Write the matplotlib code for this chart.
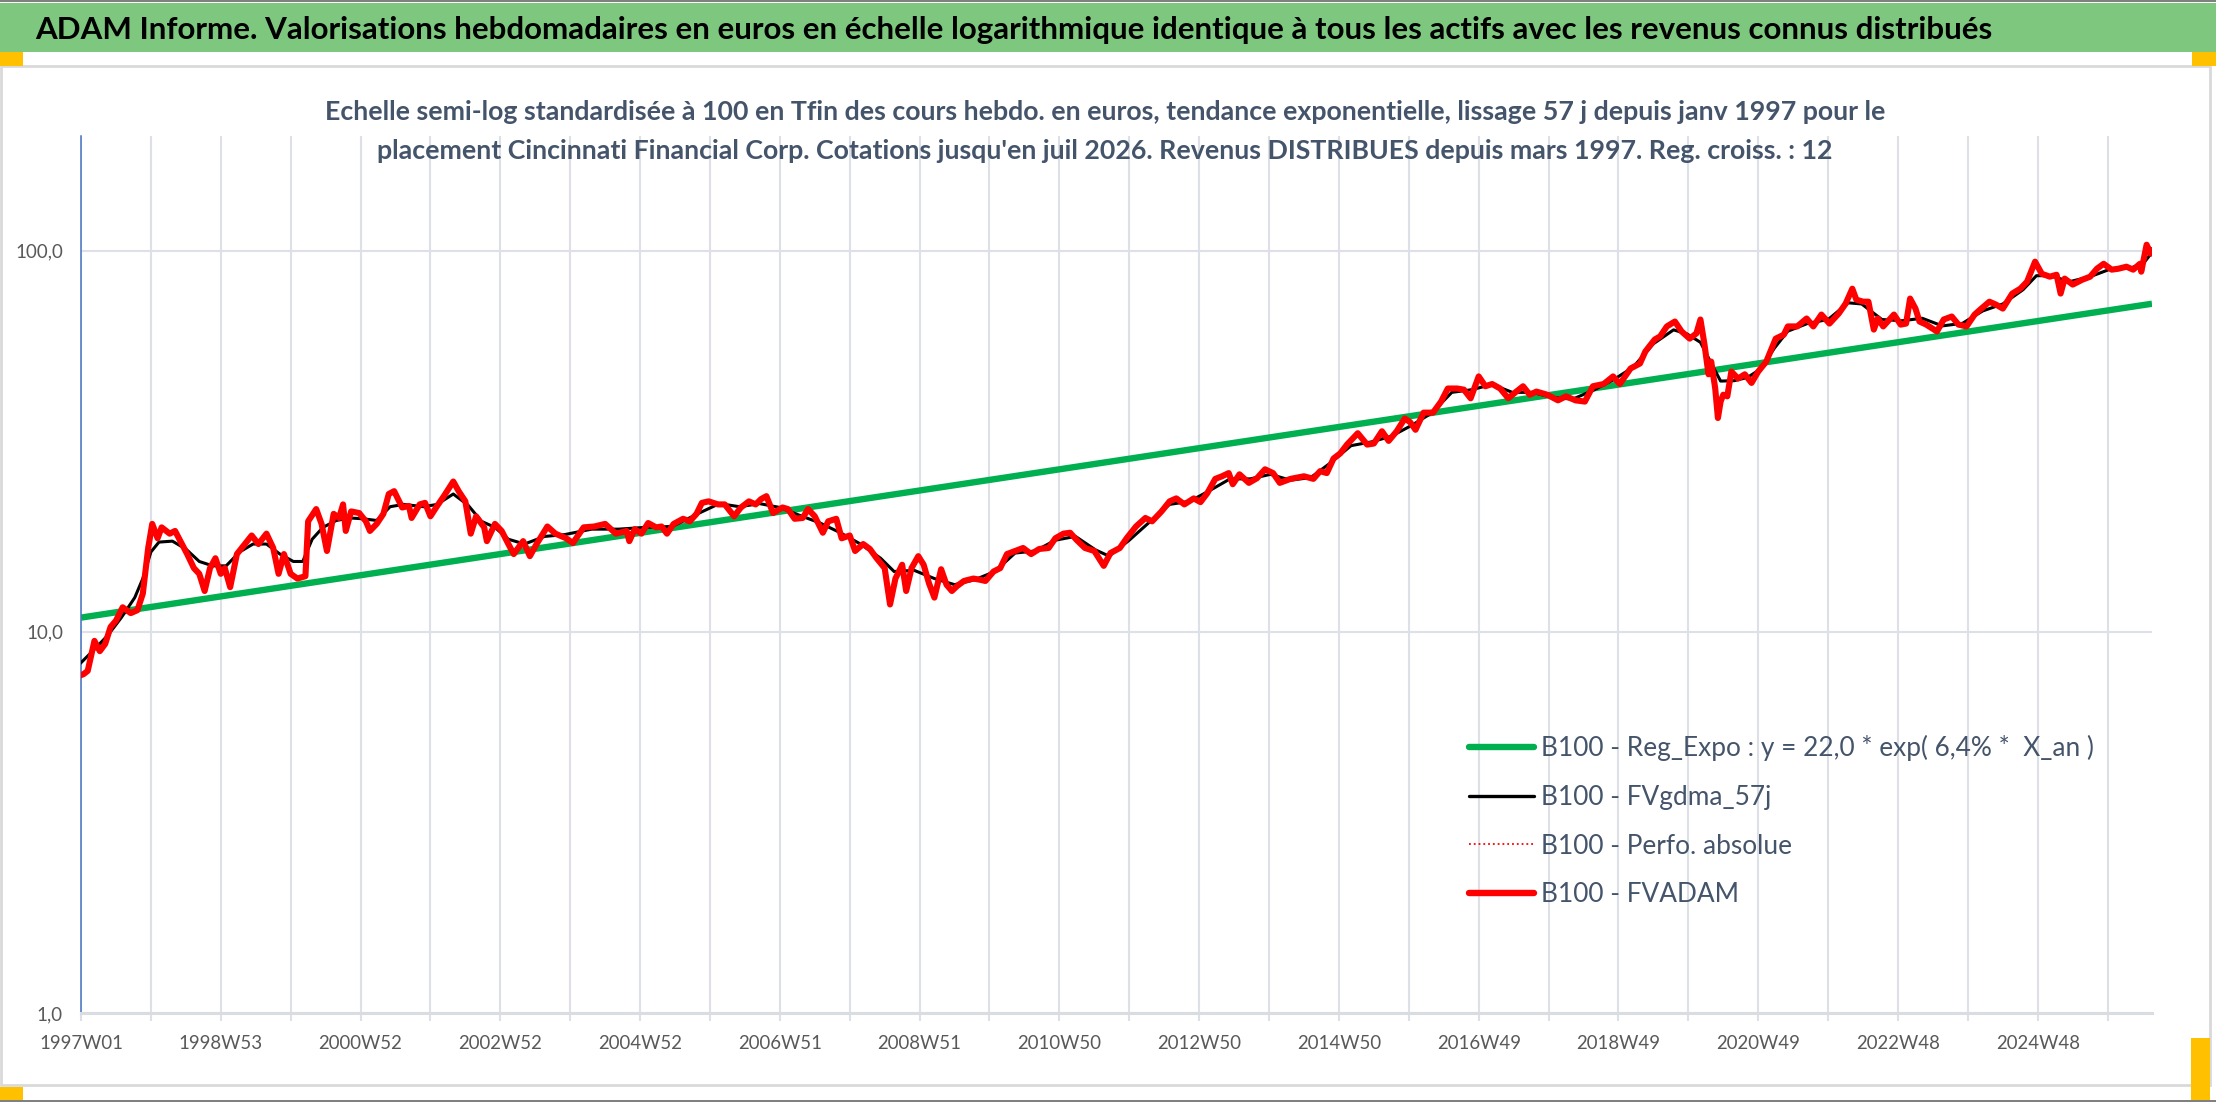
import matplotlib
matplotlib.use('Agg')
import matplotlib.pyplot as plt
from matplotlib.patches import Rectangle
from matplotlib.lines import Line2D
from matplotlib.ticker import FixedLocator, NullLocator, FuncFormatter

# ---------------- DATA ----------------
title = ("ADAM Informe. Valorisations hebdomadaires en euros en échelle logarithmique "
         "identique à tous les actifs avec les revenus connus distribués")
subtitle1 = ("Echelle semi-log standardisée à 100 en Tfin des cours hebdo. en euros, tendance "
             "exponentielle, lissage 57 j depuis janv 1997 pour le")
subtitle2 = ("placement Cincinnati Financial Corp. Cotations jusqu'en juil 2026. Revenus "
             "DISTRIBUES depuis mars 1997. Reg. croiss. : 12")

n_weeks = 1542
tick_labels = ["1997W01", "1998W53", "2000W52", "2002W52", "2004W52", "2006W51",
               "2008W51", "2010W50", "2012W50", "2014W50", "2016W49", "2018W49",
               "2020W49", "2022W48", "2024W48"]

legend_labels = ["B100 - Reg_Expo : y = 22,0 * exp( 6,4% *  X_an )",
                 "B100 - FVgdma_57j",
                 "B100 - Perfo. absolue",
                 "B100 - FVADAM"]

# Exponential trend (straight line in semi-log): start and end values
trend_weeks = [0, 1541]
trend_vals = [10.9, 72.6]

# FVADAM (red) : week index, value
red_weeks = [0, 2, 5, 10, 14, 18, 22, 26, 31, 37, 42, 46, 50, 53, 57, 60, 66, 70, 74, 79,
             84, 88, 92, 96, 100, 104, 107, 111, 116, 122, 127, 132, 138, 143, 147, 151, 156,
             161, 167, 169, 175, 179, 183, 188, 192, 195, 197, 201, 207, 212, 215, 220, 225,
             229, 233, 239, 244, 246, 252, 256, 260, 265, 270, 277, 281, 286, 290, 294, 300,
             302, 308, 313, 318, 322, 329, 334, 339, 347, 353, 361, 366, 374, 382, 390, 398,
             406, 408, 412, 417, 422, 428, 432, 436, 441, 448, 453, 458, 462, 467, 474, 479,
             486, 491, 497, 502, 506, 510, 515, 522, 526, 531, 537, 541, 546, 552, 556, 562,
             566, 572, 576, 582, 587, 592, 598, 602, 606, 611, 614, 618, 623, 627, 631, 635,
             640, 644, 648, 652, 657, 664, 669, 673, 679, 684, 689, 695, 701, 707, 713, 720,
             725, 731, 736, 741, 747, 754, 761, 766, 773, 778, 785, 792, 797, 804, 810, 815,
             821, 828, 833, 838, 844, 849, 854, 857, 862, 869, 875, 881, 887, 892, 900, 910,
             917, 922, 927, 932, 937, 942, 950, 957, 962, 968, 973, 979, 985, 989, 993, 999,
             1006, 1012, 1017, 1024, 1029, 1034, 1040, 1045, 1050, 1056, 1062, 1068, 1073,
             1078, 1083, 1091, 1099, 1105, 1112, 1119, 1125, 1133, 1140, 1145, 1153, 1160,
             1164, 1171, 1175, 1180, 1186, 1191, 1197, 1202, 1205, 1208, 1211, 1213, 1216,
             1218, 1220, 1222, 1225, 1228, 1233, 1238, 1243, 1248, 1254, 1261, 1267, 1270,
             1277, 1284, 1289, 1295, 1301, 1308, 1313, 1318, 1321, 1326, 1330, 1334, 1337,
             1341, 1349, 1354, 1358, 1361, 1365, 1368, 1373, 1381, 1386, 1392, 1397, 1403,
             1409, 1414, 1420, 1425, 1430, 1437, 1443, 1448, 1454, 1459, 1465, 1470, 1473,
             1476, 1482, 1489, 1495, 1500, 1505, 1511, 1516, 1522, 1527, 1532, 1533, 1537,
             1540, 1541]
red_vals = [7.7, 7.75, 7.9, 9.47, 8.9, 9.3, 10.3, 10.7, 11.6, 11.2, 11.4, 12.6, 16.6, 19.2,
            17.6, 18.8, 18.1, 18.4, 17.3, 16.0, 14.7, 14.2, 12.8, 14.7, 15.6, 14.2, 14.7, 13.1,
            16.0, 17.0, 17.9, 17.0, 18.1, 16.6, 14.2, 16.0, 14.2, 13.8, 14.0, 19.5, 21.0, 19.2,
            16.3, 20.4, 19.9, 21.6, 18.4, 20.7, 20.5, 19.5, 18.4, 19.2, 20.4, 23.0, 23.4, 21.2,
            21.4, 19.9, 21.6, 21.8, 20.1, 21.4, 22.7, 24.8, 23.4, 22.0, 18.1, 20.1, 18.8, 17.3,
            19.2, 18.4, 17.0, 16.0, 17.3, 15.8, 17.0, 18.9, 18.1, 17.6, 17.1, 18.8, 18.9, 19.2,
            18.1, 18.4, 17.3, 18.6, 18.1, 19.3, 18.8, 18.9, 18.1, 19.2, 19.8, 19.5, 20.4, 21.8,
            22.0, 21.6, 21.6, 20.1, 21.2, 22.0, 21.6, 22.3, 22.7, 20.5, 21.2, 21.0, 19.8, 19.9,
            21.0, 20.1, 18.2, 19.5, 19.8, 17.6, 17.9, 16.3, 17.0, 16.5, 15.6, 14.7, 11.8, 13.8,
            15.0, 12.8, 14.7, 15.8, 15.0, 13.4, 12.3, 14.6, 13.3, 12.8, 13.2, 13.6, 13.8, 13.7,
            13.6, 14.4, 14.7, 16.0, 16.3, 16.6, 16.0, 16.5, 16.6, 17.6, 18.1, 18.2, 17.4, 16.6,
            16.3, 14.9, 16.1, 16.6, 17.6, 18.9, 19.9, 19.5, 20.7, 22.0, 22.4, 21.6, 22.4, 21.9,
            23.1, 25.2, 25.6, 26.1, 24.4, 25.9, 24.6, 25.3, 26.7, 26.1, 24.6, 25.2, 25.6, 25.2,
            26.4, 26.1, 28.5, 29.4, 31.0, 33.2, 31.0, 31.2, 33.6, 31.7, 33.6, 36.3, 35.5, 33.9,
            37.6, 37.6, 40.2, 43.5, 43.5, 43.2, 41.0, 46.8, 44.1, 44.7, 43.5, 41.0, 42.7, 44.1,
            41.9, 42.7, 41.9, 40.5, 41.5, 40.5, 40.2, 44.1, 44.7, 46.8, 44.7, 49.1, 50.6, 54.4,
            58.5, 59.6, 63.3, 65.2, 61.4, 58.8, 60.7, 66.0, 56.8, 47.4, 51.2, 43.5, 36.4, 40.2,
            41.9, 41.5, 48.2, 46.2, 47.4, 45.0, 48.2, 51.2, 58.8, 60.2, 63.3, 63.3, 66.4, 63.3,
            68.0, 64.4, 68.5, 72.6, 79.5, 74.4, 73.5, 73.5, 62.1, 66.4, 63.3, 68.0, 64.0, 64.4,
            74.9, 70.5, 65.2, 64.0, 61.4, 66.0, 67.2, 64.0, 63.3, 68.0, 70.5, 73.5, 72.2, 70.5,
            77.2, 79.5, 82.9, 93.6, 87.0, 85.5, 86.5, 77.2, 84.5, 81.5, 83.9, 85.5, 89.7, 92.4,
            89.2, 89.7, 90.8, 89.2, 92.4, 88.1, 103.7, 98.2, 100.0]

# FVgdma_57j (black, smoothed) : week index, value
black_weeks = [0, 10, 20, 30, 40, 46, 52, 58, 68, 78, 88, 98, 108, 118, 128, 138, 148, 158,
               165, 172, 180, 190, 200, 210, 220, 230, 240, 255, 265, 277, 288, 298, 308, 318,
               330, 345, 360, 380, 400, 420, 440, 460, 475, 490, 505, 520, 535, 550, 565, 580,
               595, 605, 620, 635, 650, 665, 680, 695, 710, 725, 740, 755, 765, 780, 795, 810,
               825, 840, 855, 870, 885, 900, 915, 930, 945, 960, 975, 990, 1005, 1020, 1035,
               1050, 1065, 1080, 1095, 1110, 1125, 1140, 1155, 1170, 1185, 1195, 1205, 1212,
               1220, 1230, 1240, 1250, 1260, 1270, 1285, 1300, 1315, 1325, 1340, 1355, 1370,
               1385, 1400, 1415, 1430, 1445, 1455, 1465, 1480, 1495, 1510, 1525, 1535, 1541]
black_vals = [8.3, 9.0, 9.8, 10.9, 12.3, 13.8, 16.2, 17.2, 17.3, 16.5, 15.3, 14.9, 14.9,
              16.2, 17.0, 17.0, 16.0, 15.3, 15.3, 17.5, 18.8, 19.6, 19.9, 19.8, 19.6, 21.3,
              21.6, 21.3, 21.6, 23.0, 21.5, 19.5, 18.8, 17.5, 17.0, 17.8, 18.0, 18.6, 18.6,
              18.8, 18.9, 20.5, 21.7, 21.3, 21.7, 21.2, 20.2, 19.3, 18.2, 17.0, 15.6, 14.4,
              14.5, 13.8, 13.3, 13.7, 14.4, 16.1, 16.3, 17.4, 17.8, 16.4, 15.8, 17.4, 19.4,
              21.6, 22.0, 23.5, 25.2, 25.2, 25.9, 25.0, 25.4, 27.8, 30.8, 31.5, 32.6, 34.8,
              37.5, 42.5, 43.2, 44.6, 42.5, 42.5, 41.2, 40.8, 43.0, 45.8, 49.5, 57.0, 62.0,
              60.5, 57.5, 51.5, 45.5, 45.6, 46.5, 49.0, 55.5, 61.5, 64.5, 66.0, 73.0, 72.5,
              66.0, 65.5, 66.5, 63.5, 64.5, 69.5, 72.5, 79.0, 86.0, 86.0, 83.0, 85.5, 89.5,
              90.0, 93.0, 99.0]

# ---------------- LAYOUT ----------------
W, H = 2216, 1102
FAM = ['Lato', 'Roboto', 'DejaVu Sans']
plt.rcParams['font.family'] = FAM

def fx(x):
    return x / W

def fy(y):
    return 1 - y / H

fig = plt.figure(figsize=(W / 100, H / 100), dpi=100)
fig.patch.set_facecolor('white')
renderer = fig.canvas.get_renderer()

def fit_size(s, target_px, weight='normal', base=20.0):
    t = fig.text(0, 0, s, fontsize=base, fontweight=weight)
    w = t.get_window_extent(renderer=renderer).width
    t.remove()
    return base * target_px / w

SLATE = '#44546A'
GRID = '#DDE0E6'

# decorations: title bar, borders, selection handles
fig.add_artist(Rectangle((0, fy(52)), 1, 49 / H, transform=fig.transFigure,
                         facecolor='#7DC87E', edgecolor='none', zorder=0))
fig.add_artist(Rectangle((0, fy(2)), 1, 2 / H, transform=fig.transFigure,
                         facecolor='#808080', edgecolor='none', zorder=1))
fig.add_artist(Rectangle((0, fy(H)), 1, 2 / H, transform=fig.transFigure,
                         facecolor='#808080', edgecolor='none', zorder=1))
fig.add_artist(Rectangle((fx(1), fy(1085)), 2209 / W, (1085 - 66) / H, transform=fig.transFigure,
                         fill=False, edgecolor='#D9D9D9', lw=2, zorder=1))
for (x0, y0, x1, y1) in [(0, 52, 23, 66), (2192, 52, 2216, 66), (0, 1087, 23, 1100),
                         (2191, 1038, 2210, 1100)]:
    fig.add_artist(Rectangle((fx(x0), fy(y1)), (x1 - x0) / W, (y1 - y0) / H,
                             transform=fig.transFigure, facecolor='#FFC000',
                             edgecolor='none', zorder=2))

# title
ts = fit_size(title, 1955, weight='bold')
fig.text(fx(35), fy(30), title, ha='left', va='center', fontsize=ts,
         fontweight='bold', color='black', zorder=3)

# subtitle
ss = fit_size(subtitle1, 1563, weight='bold')
fig.text(fx(1105), fy(112), subtitle1, ha='center', va='center', fontsize=ss,
         fontweight='bold', color=SLATE, zorder=5)
fig.text(fx(1105), fy(151), subtitle2, ha='center', va='center', fontsize=ss,
         fontweight='bold', color=SLATE, zorder=5)

# axes
ax = fig.add_axes([fx(81), fy(1013), (2152 - 81) / W, (1013 - 136) / H])
ax.set_facecolor('none')
ax.set_yscale('log')
ax.set_ylim(1, 200)
ax.set_xlim(0, n_weeks - 1)

ax.plot(trend_weeks, trend_vals, color='#00B050', lw=4.6, solid_capstyle='butt', zorder=2)
ax.plot(black_weeks, black_vals, color='black', lw=2.2, zorder=3)
ax.plot(red_weeks, red_vals, color='red', lw=1.2, ls=':', zorder=3.5)
ax.plot(red_weeks, red_vals, color='#FF0000', lw=4.4, solid_joinstyle='round', zorder=4)

# y axis
ax.yaxis.set_major_locator(FixedLocator([1, 10, 100]))
ax.yaxis.set_minor_locator(NullLocator())
ax.yaxis.set_major_formatter(FuncFormatter(lambda v, p: f"{v:.1f}".replace('.', ',')))
ylab = fit_size("100,0", 48)
ax.tick_params(axis='y', length=0, pad=13, labelsize=ylab, labelcolor='#595959')

# x axis
xt = list(range(0, n_weeks, 52))
ax.set_xticks(xt)
ax.set_xticklabels([tick_labels[i // 2] if i % 2 == 0 else '' for i in range(len(xt))])
xlab = fit_size("1997W01", 84)
ax.tick_params(axis='x', length=6, width=1.5, color=GRID, pad=10, labelsize=xlab,
               labelcolor='#595959')

ax.grid(True, axis='both', which='major', color=GRID, lw=1.5, zorder=0)
ax.set_axisbelow(True)
for s in ['top', 'right']:
    ax.spines[s].set_visible(False)
ax.spines['left'].set_color('#4472C4')
ax.spines['left'].set_linewidth(1.1)
ax.spines['bottom'].set_color('#D9DCE1')
ax.spines['bottom'].set_linewidth(2.2)

# legend
lf = fit_size(legend_labels[0], 553)
lpx = lf * 100 / 72
row_h = 1.21 * lpx
handles = [Line2D([], [], color='#00B050', lw=4.6, solid_capstyle='round'),
           Line2D([], [], color='black', lw=2.4, solid_capstyle='round'),
           Line2D([], [], color='red', lw=1.3, ls=':'),
           Line2D([], [], color='#FF0000', lw=4.6, solid_capstyle='round')]
leg = ax.legend(handles, legend_labels, loc='upper left',
                bbox_to_anchor=(fx(1469), fy(751 - row_h / 2)), bbox_transform=fig.transFigure,
                frameon=False, fontsize=lf, handlelength=65 / lpx,
                handletextpad=7 / lpx, labelspacing=(55.5 - row_h) / lpx,
                borderpad=0, borderaxespad=0)
for t in leg.get_texts():
    t.set_color(SLATE)

fig.savefig('out.png', dpi=100)
